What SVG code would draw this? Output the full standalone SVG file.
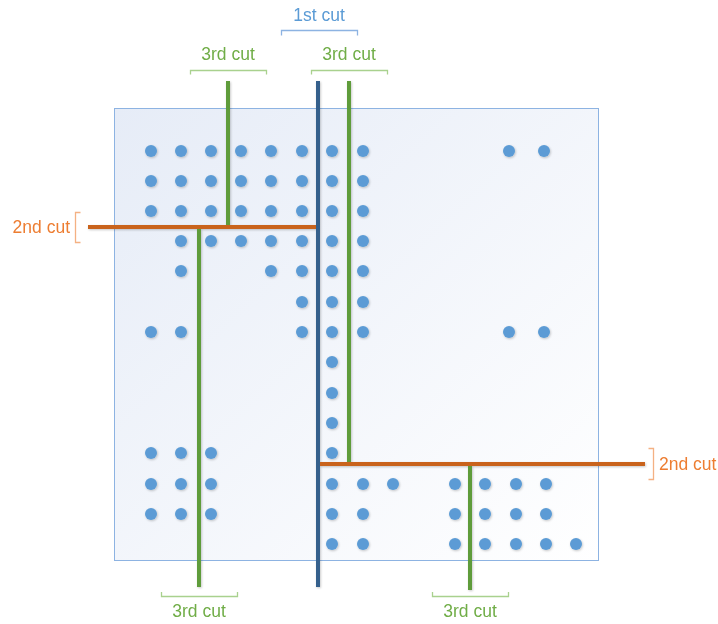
<svg xmlns="http://www.w3.org/2000/svg" width="718" height="624" viewBox="0 0 718 624">
  <defs>
    <linearGradient id="boxFill" x1="0" y1="0" x2="1" y2="1">
      <stop offset="0" stop-color="#e6ecf7"/>
      <stop offset="1" stop-color="#ffffff"/>
    </linearGradient>
    <filter id="soft" x="-50%" y="-50%" width="200%" height="200%">
      <feDropShadow dx="0.8" dy="1" stdDeviation="0.8" flood-color="#000" flood-opacity="0.22"/>
    </filter>
    <g id="dot"><circle r="6" class="dot"/></g>
  </defs>
  <style>
    .box { fill: url(#boxFill); stroke: #8db3e2; stroke-width: 1; }
    .dot { fill: #5b9bd5; }
    .cut1 { stroke: #35608c; stroke-width: 4; fill: none; }
    .cut2 { stroke: #c9631f; stroke-width: 4; fill: none; }
    .cut3 { stroke: #5f9c3a; stroke-width: 4; fill: none; }
    .br1 { stroke: #8db3e2; stroke-width: 1.3; fill: none; }
    .br2 { stroke: #f4b183; stroke-width: 1.3; fill: none; }
    .br3 { stroke: #a9d18e; stroke-width: 1.3; fill: none; }
    text { font-family: "Liberation Sans", Arial, sans-serif; font-size: 17.5px; }
    .t1 { fill: #5b9bd5; }
    .t2 { fill: #ed7d31; }
    .t3 { fill: #70ad47; }
  </style>

  <!-- matrix area -->
  <g id="matrix">
    <rect class="box" x="114.5" y="108.5" width="484" height="452"/>
  </g>

  <!-- non-zero entries -->
  <g id="points" filter="url(#soft)">
    <!-- row 151 -->
    <use href="#dot" x="151" y="151"/><use href="#dot" x="181" y="151"/><use href="#dot" x="211" y="151"/><use href="#dot" x="241" y="151"/>
    <use href="#dot" x="271" y="151"/><use href="#dot" x="302" y="151"/><use href="#dot" x="332" y="151"/><use href="#dot" x="363" y="151"/>
    <use href="#dot" x="509" y="151"/><use href="#dot" x="544" y="151"/>
    <!-- row 181 -->
    <use href="#dot" x="151" y="181"/><use href="#dot" x="181" y="181"/><use href="#dot" x="211" y="181"/><use href="#dot" x="241" y="181"/>
    <use href="#dot" x="271" y="181"/><use href="#dot" x="302" y="181"/><use href="#dot" x="332" y="181"/><use href="#dot" x="363" y="181"/>
    <!-- row 211 -->
    <use href="#dot" x="151" y="211"/><use href="#dot" x="181" y="211"/><use href="#dot" x="211" y="211"/><use href="#dot" x="241" y="211"/>
    <use href="#dot" x="271" y="211"/><use href="#dot" x="302" y="211"/><use href="#dot" x="332" y="211"/><use href="#dot" x="363" y="211"/>
    <!-- row 241 -->
    <use href="#dot" x="181" y="241"/><use href="#dot" x="211" y="241"/><use href="#dot" x="241" y="241"/>
    <use href="#dot" x="271" y="241"/><use href="#dot" x="302" y="241"/><use href="#dot" x="332" y="241"/><use href="#dot" x="363" y="241"/>
    <!-- row 271 -->
    <use href="#dot" x="181" y="271"/><use href="#dot" x="271" y="271"/><use href="#dot" x="302" y="271"/><use href="#dot" x="332" y="271"/><use href="#dot" x="363" y="271"/>
    <!-- row 302 -->
    <use href="#dot" x="302" y="302"/><use href="#dot" x="332" y="302"/><use href="#dot" x="363" y="302"/>
    <!-- row 332 -->
    <use href="#dot" x="151" y="332"/><use href="#dot" x="181" y="332"/>
    <use href="#dot" x="302" y="332"/><use href="#dot" x="332" y="332"/><use href="#dot" x="363" y="332"/>
    <use href="#dot" x="509" y="332"/><use href="#dot" x="544" y="332"/>
    <!-- rows 362 - 423 -->
    <use href="#dot" x="332" y="362"/><use href="#dot" x="332" y="393"/><use href="#dot" x="332" y="423"/>
    <!-- row 453 -->
    <use href="#dot" x="151" y="453"/><use href="#dot" x="181" y="453"/><use href="#dot" x="211" y="453"/><use href="#dot" x="332" y="453"/>
    <!-- row 484 -->
    <use href="#dot" x="151" y="484"/><use href="#dot" x="181" y="484"/><use href="#dot" x="211" y="484"/>
    <use href="#dot" x="332" y="484"/><use href="#dot" x="363" y="484"/><use href="#dot" x="393" y="484"/>
    <use href="#dot" x="455" y="484"/><use href="#dot" x="485" y="484"/><use href="#dot" x="516" y="484"/><use href="#dot" x="546" y="484"/>
    <!-- row 514 -->
    <use href="#dot" x="151" y="514"/><use href="#dot" x="181" y="514"/><use href="#dot" x="211" y="514"/>
    <use href="#dot" x="332" y="514"/><use href="#dot" x="363" y="514"/>
    <use href="#dot" x="455" y="514"/><use href="#dot" x="485" y="514"/><use href="#dot" x="516" y="514"/><use href="#dot" x="546" y="514"/>
    <!-- row 544 -->
    <use href="#dot" x="332" y="544"/><use href="#dot" x="363" y="544"/>
    <use href="#dot" x="455" y="544"/><use href="#dot" x="485" y="544"/><use href="#dot" x="516" y="544"/><use href="#dot" x="546" y="544"/><use href="#dot" x="576" y="544"/>
  </g>

  <!-- cut lines -->
  <g id="connectors" filter="url(#soft)">
    <line class="cut3" x1="228" y1="81" x2="228" y2="227"/>
    <line class="cut3" x1="349" y1="81" x2="349" y2="464"/>
    <line class="cut3" x1="199" y1="227" x2="199" y2="587"/>
    <line class="cut3" x1="470" y1="464" x2="470" y2="590"/>
    <line class="cut2" x1="88" y1="227" x2="318" y2="227"/>
    <line class="cut2" x1="318" y1="464" x2="645" y2="464"/>
    <line class="cut1" x1="318" y1="81" x2="318" y2="587"/>
  </g>

  <!-- labels -->
  <g id="label-cut1">
    <path class="br1" d="M281.5 35.5 V30.5 H357.5 V35.5"/>
    <text class="t1" x="319" y="21" text-anchor="middle">1st cut</text>
  </g>
  <g id="label-cut3-top-left">
    <path class="br3" d="M190.5 74.5 V70.5 H266.5 V74.5"/>
    <text class="t3" x="228" y="60" text-anchor="middle">3rd cut</text>
  </g>
  <g id="label-cut3-top-right">
    <path class="br3" d="M311.5 74.5 V70.5 H387.5 V74.5"/>
    <text class="t3" x="349" y="60" text-anchor="middle">3rd cut</text>
  </g>
  <g id="label-cut2-left">
    <path class="br2" d="M80.5 212.5 H75.5 V242.5 H80.5"/>
    <text class="t2" x="70" y="233" text-anchor="end">2nd cut</text>
  </g>
  <g id="label-cut2-right">
    <path class="br2" d="M648.5 448.5 H653.5 V479.5 H648.5"/>
    <text class="t2" x="659" y="470">2nd cut</text>
  </g>
  <g id="label-cut3-bottom-left">
    <path class="br3" d="M161.5 592 V596.5 H237.5 V592"/>
    <text class="t3" x="199" y="617" text-anchor="middle">3rd cut</text>
  </g>
  <g id="label-cut3-bottom-right">
    <path class="br3" d="M432.5 592 V596.5 H508.5 V592"/>
    <text class="t3" x="470" y="617" text-anchor="middle">3rd cut</text>
  </g>
</svg>
